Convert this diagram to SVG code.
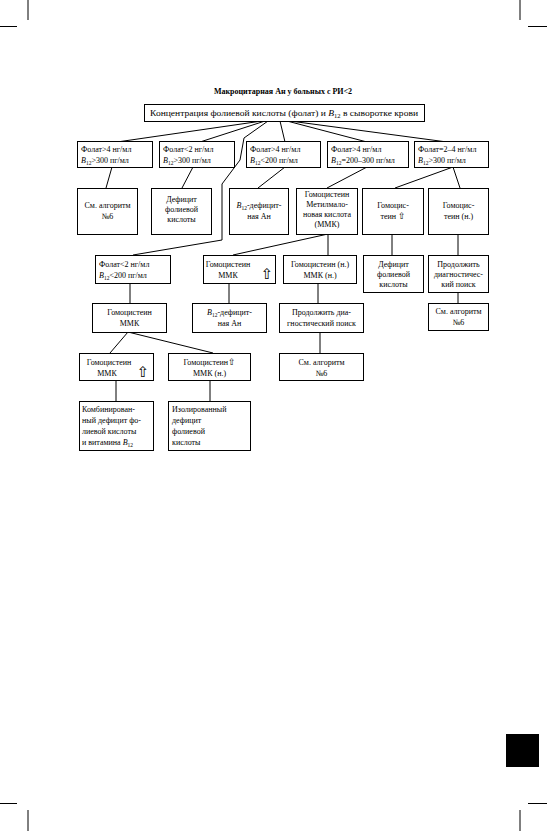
<svg xmlns="http://www.w3.org/2000/svg" width="547" height="831" viewBox="0 0 547 831">
<style>
.b{fill:#fff;stroke:#000;stroke-width:1}
.t{font-family:"Liberation Serif","DejaVu Serif",serif;font-size:8px;fill:#000}
.c{text-anchor:middle}
.i{font-style:italic}
.s{font-size:5.5px}
.ar{font-family:"DejaVu Sans",sans-serif;font-size:15px;fill:#000;text-anchor:middle}
.ar2{font-family:"DejaVu Sans",sans-serif;font-size:9px;fill:#000}
#conn line,#conn polyline{stroke:#000;stroke-width:1;fill:none}
.m{stroke:#000;stroke-width:1}
</style>
<rect width="547" height="831" fill="#fff"/>
<g id="marks">
<line class="m" x1="28" y1="0" x2="28" y2="20"/>
<line class="m" x1="0" y1="26.5" x2="17" y2="26.5"/>
<line class="m" x1="520" y1="0" x2="520" y2="20"/>
<line class="m" x1="528" y1="26.5" x2="547" y2="26.5"/>
<line class="m" x1="0" y1="803.5" x2="17" y2="803.5"/>
<line class="m" x1="28" y1="810" x2="28" y2="831"/>
<line class="m" x1="520" y1="810" x2="520" y2="831"/>
<line class="m" x1="528" y1="803.5" x2="547" y2="803.5"/>
<rect x="506" y="734" width="33" height="33" fill="#000"/>
</g>
<text id="title" class="t c" x="283" y="94" font-weight="bold">Макроцитарная Ан у больных с РИ&lt;2</text>
<g id="conn">
<line x1="262" y1="121" x2="117" y2="142"/>
<line x1="265" y1="121" x2="200" y2="142"/>
<polyline points="268,121 244,138 240,160 222,184 222,240 133,255"/>
<line x1="280" y1="121" x2="285" y2="142"/>
<line x1="287" y1="121" x2="367" y2="142"/>
<line x1="290" y1="121" x2="447" y2="142"/>
<line x1="112" y1="167" x2="106" y2="188"/>
<line x1="193" y1="167" x2="182" y2="188"/>
<line x1="285" y1="167" x2="258" y2="188"/>
<line x1="367" y1="167" x2="327" y2="188"/>
<line x1="453" y1="167" x2="395" y2="188"/>
<line x1="453" y1="167" x2="460" y2="188"/>
<line x1="328" y1="234" x2="233" y2="255"/>
<line x1="328" y1="234" x2="328" y2="255"/>
<line x1="392" y1="234" x2="392" y2="255"/>
<line x1="458" y1="234" x2="458" y2="255"/>
<line x1="130" y1="283" x2="130" y2="303"/>
<line x1="229" y1="283" x2="229" y2="303"/>
<line x1="318" y1="283" x2="318" y2="303"/>
<line x1="458" y1="292" x2="458" y2="303"/>
<line x1="128" y1="332" x2="110" y2="353"/>
<line x1="128" y1="332" x2="213" y2="353"/>
<line x1="320" y1="332" x2="320" y2="353"/>
<line x1="116" y1="380" x2="116" y2="401"/>
<line x1="210" y1="380" x2="210" y2="401"/>
</g>
<g id="top">
<rect class="b" x="144.5" y="104.5" width="280" height="17"/>
<text class="t" x="150" y="115.5" textLength="268" lengthAdjust="spacingAndGlyphs">Концентрация фолиевой кислоты (фолат) и <tspan class="i">B</tspan><tspan class="s" dy="2">12</tspan><tspan dy="-2"> в сыворотке крови</tspan></text>
</g>
<g id="r1a">
<rect class="b" x="77.5" y="141.5" width="75" height="26"/>
<text class="t" x="81" y="152">Фолат&gt;4 нг/мл</text>
<text class="t" x="81" y="163"><tspan class="i">B</tspan><tspan class="s" dy="2">12</tspan><tspan dy="-2">&gt;300 пг/мл</tspan></text>
</g>
<g id="r1b">
<rect class="b" x="159.5" y="141.5" width="75" height="26"/>
<text class="t" x="163" y="152">Фолат&lt;2 нг/мл</text>
<text class="t" x="163" y="163"><tspan class="i">B</tspan><tspan class="s" dy="2">12</tspan><tspan dy="-2">&gt;300 пг/мл</tspan></text>
</g>
<g id="r1c">
<rect class="b" x="246.5" y="141.5" width="74" height="26"/>
<text class="t" x="250" y="152">Фолат&gt;4 нг/мл</text>
<text class="t" x="250" y="163"><tspan class="i">B</tspan><tspan class="s" dy="2">12</tspan><tspan dy="-2">&lt;200 пг/мл</tspan></text>
</g>
<g id="r1d">
<rect class="b" x="327.5" y="141.5" width="81" height="26"/>
<text class="t" x="331" y="152">Фолат&gt;4 нг/мл</text>
<text class="t" x="331" y="163"><tspan class="i">B</tspan><tspan class="s" dy="2">12</tspan><tspan dy="-2">=200–300 пг/мл</tspan></text>
</g>
<g id="r1e">
<rect class="b" x="414.5" y="141.5" width="74" height="26"/>
<text class="t" x="418" y="152">Фолат=2–4 нг/мл</text>
<text class="t" x="418" y="163"><tspan class="i">B</tspan><tspan class="s" dy="2">12</tspan><tspan dy="-2">&gt;300 пг/мл</tspan></text>
</g>
<g id="r2a">
<rect class="b" x="77.5" y="188.5" width="60" height="46"/>
<text class="t c" x="107.5" y="208">См. алгоритм</text>
<text class="t c" x="107.5" y="219">№6</text>
</g>
<g id="r2b">
<rect class="b" x="151.5" y="188.5" width="60" height="46"/>
<text class="t c" x="181.5" y="202">Дефицит</text>
<text class="t c" x="181.5" y="212">фолиевой</text>
<text class="t c" x="181.5" y="222">кислоты</text>
</g>
<g id="r2c">
<rect class="b" x="229.5" y="188.5" width="59" height="46"/>
<text class="t c" x="259" y="208"><tspan class="i">B</tspan><tspan class="s" dy="2">12</tspan><tspan dy="-2">-дефицит-</tspan></text>
<text class="t c" x="259" y="219">ная Ан</text>
</g>
<g id="r2d">
<rect class="b" x="296.5" y="188.5" width="61" height="46"/>
<text class="t c" x="327" y="197">Гомоцистеин</text>
<text class="t c" x="327" y="207">Метилмало-</text>
<text class="t c" x="327" y="217">новая кислота</text>
<text class="t c" x="327" y="227">(ММК)</text>
</g>
<g id="r2e">
<rect class="b" x="362.5" y="188.5" width="61" height="46"/>
<text class="t c" x="393" y="208">Гомоцис-</text>
<text class="t c" x="393" y="219">теин <tspan class="ar2">⇧</tspan></text>
</g>
<g id="r2f">
<rect class="b" x="428.5" y="188.5" width="60" height="46"/>
<text class="t c" x="458.5" y="208">Гомоцис-</text>
<text class="t c" x="458.5" y="219">теин (н.)</text>
</g>
<g id="r3a">
<rect class="b" x="95.5" y="255.5" width="75" height="28"/>
<text class="t" x="99" y="267">Фолат&lt;2 нг/мл</text>
<text class="t" x="99" y="278"><tspan class="i">B</tspan><tspan class="s" dy="2">12</tspan><tspan dy="-2">&lt;200 пг/мл</tspan></text>
</g>
<g id="r3b">
<rect class="b" x="203.5" y="255.5" width="72" height="28"/>
<text class="t c" x="228" y="267">Гомоцистеин</text>
<text class="t c" x="228" y="278">ММК</text>
<text class="ar" x="267" y="279">⇧</text>
</g>
<g id="r3c">
<rect class="b" x="283.5" y="255.5" width="73" height="28"/>
<text class="t c" x="320" y="267">Гомоцистеин (н.)</text>
<text class="t c" x="320" y="278">ММК (н.)</text>
</g>
<g id="r3d">
<rect class="b" x="363.5" y="255.5" width="60" height="37"/>
<text class="t c" x="393.5" y="267">Дефицит</text>
<text class="t c" x="393.5" y="277">фолиевой</text>
<text class="t c" x="393.5" y="287">кислоты</text>
</g>
<g id="r3e">
<rect class="b" x="428.5" y="255.5" width="60" height="37"/>
<text class="t c" x="458.5" y="267">Продолжить</text>
<text class="t c" x="458.5" y="277">диагностичес-</text>
<text class="t c" x="458.5" y="287">кий поиск</text>
</g>
<g id="r4a">
<rect class="b" x="92.5" y="303.5" width="74" height="29"/>
<text class="t c" x="129.5" y="315">Гомоцистеин</text>
<text class="t c" x="129.5" y="326">ММК</text>
</g>
<g id="r4b">
<rect class="b" x="192.5" y="303.5" width="74" height="29"/>
<text class="t c" x="229.5" y="315"><tspan class="i">B</tspan><tspan class="s" dy="2">12</tspan><tspan dy="-2">-дефицит-</tspan></text>
<text class="t c" x="229.5" y="326">ная Ан</text>
</g>
<g id="r4c">
<rect class="b" x="279.5" y="303.5" width="84" height="29"/>
<text class="t c" x="321.5" y="315">Продолжить диа-</text>
<text class="t c" x="321.5" y="326">гностический поиск</text>
</g>
<g id="r4d">
<rect class="b" x="428.5" y="303.5" width="60" height="27"/>
<text class="t c" x="458.5" y="314">См. алгоритм</text>
<text class="t c" x="458.5" y="325">№6</text>
</g>
<g id="r5a">
<rect class="b" x="79.5" y="353.5" width="74" height="27"/>
<text class="t c" x="109" y="365">Гомоцистеин</text>
<text class="t c" x="107" y="376">ММК</text>
<text class="ar" x="143" y="377">⇧</text>
</g>
<g id="r5b">
<rect class="b" x="168.5" y="353.5" width="82" height="27"/>
<text class="t c" x="209.5" y="365">Гомоцистеин<tspan class="ar2">⇧</tspan></text>
<text class="t c" x="209.5" y="376">ММК (н.)</text>
</g>
<g id="r5c">
<rect class="b" x="279.5" y="353.5" width="84" height="27"/>
<text class="t c" x="321.5" y="365">См. алгоритм</text>
<text class="t c" x="321.5" y="376">№6</text>
</g>
<g id="r6a">
<rect class="b" x="79.5" y="401.5" width="74" height="49"/>
<text class="t" x="82" y="412">Комбинирован-</text>
<text class="t" x="82" y="423">ный дефицит фо-</text>
<text class="t" x="82" y="434">лиевой кислоты</text>
<text class="t" x="82" y="445">и витамина <tspan class="i">B</tspan><tspan class="s" dy="2">12</tspan></text>
</g>
<g id="r6b">
<rect class="b" x="168.5" y="401.5" width="82" height="49"/>
<text class="t" x="172" y="412">Изолированный</text>
<text class="t" x="172" y="423">дефицит</text>
<text class="t" x="172" y="434">фолиевой</text>
<text class="t" x="172" y="445">кислоты</text>
</g>
</svg>
